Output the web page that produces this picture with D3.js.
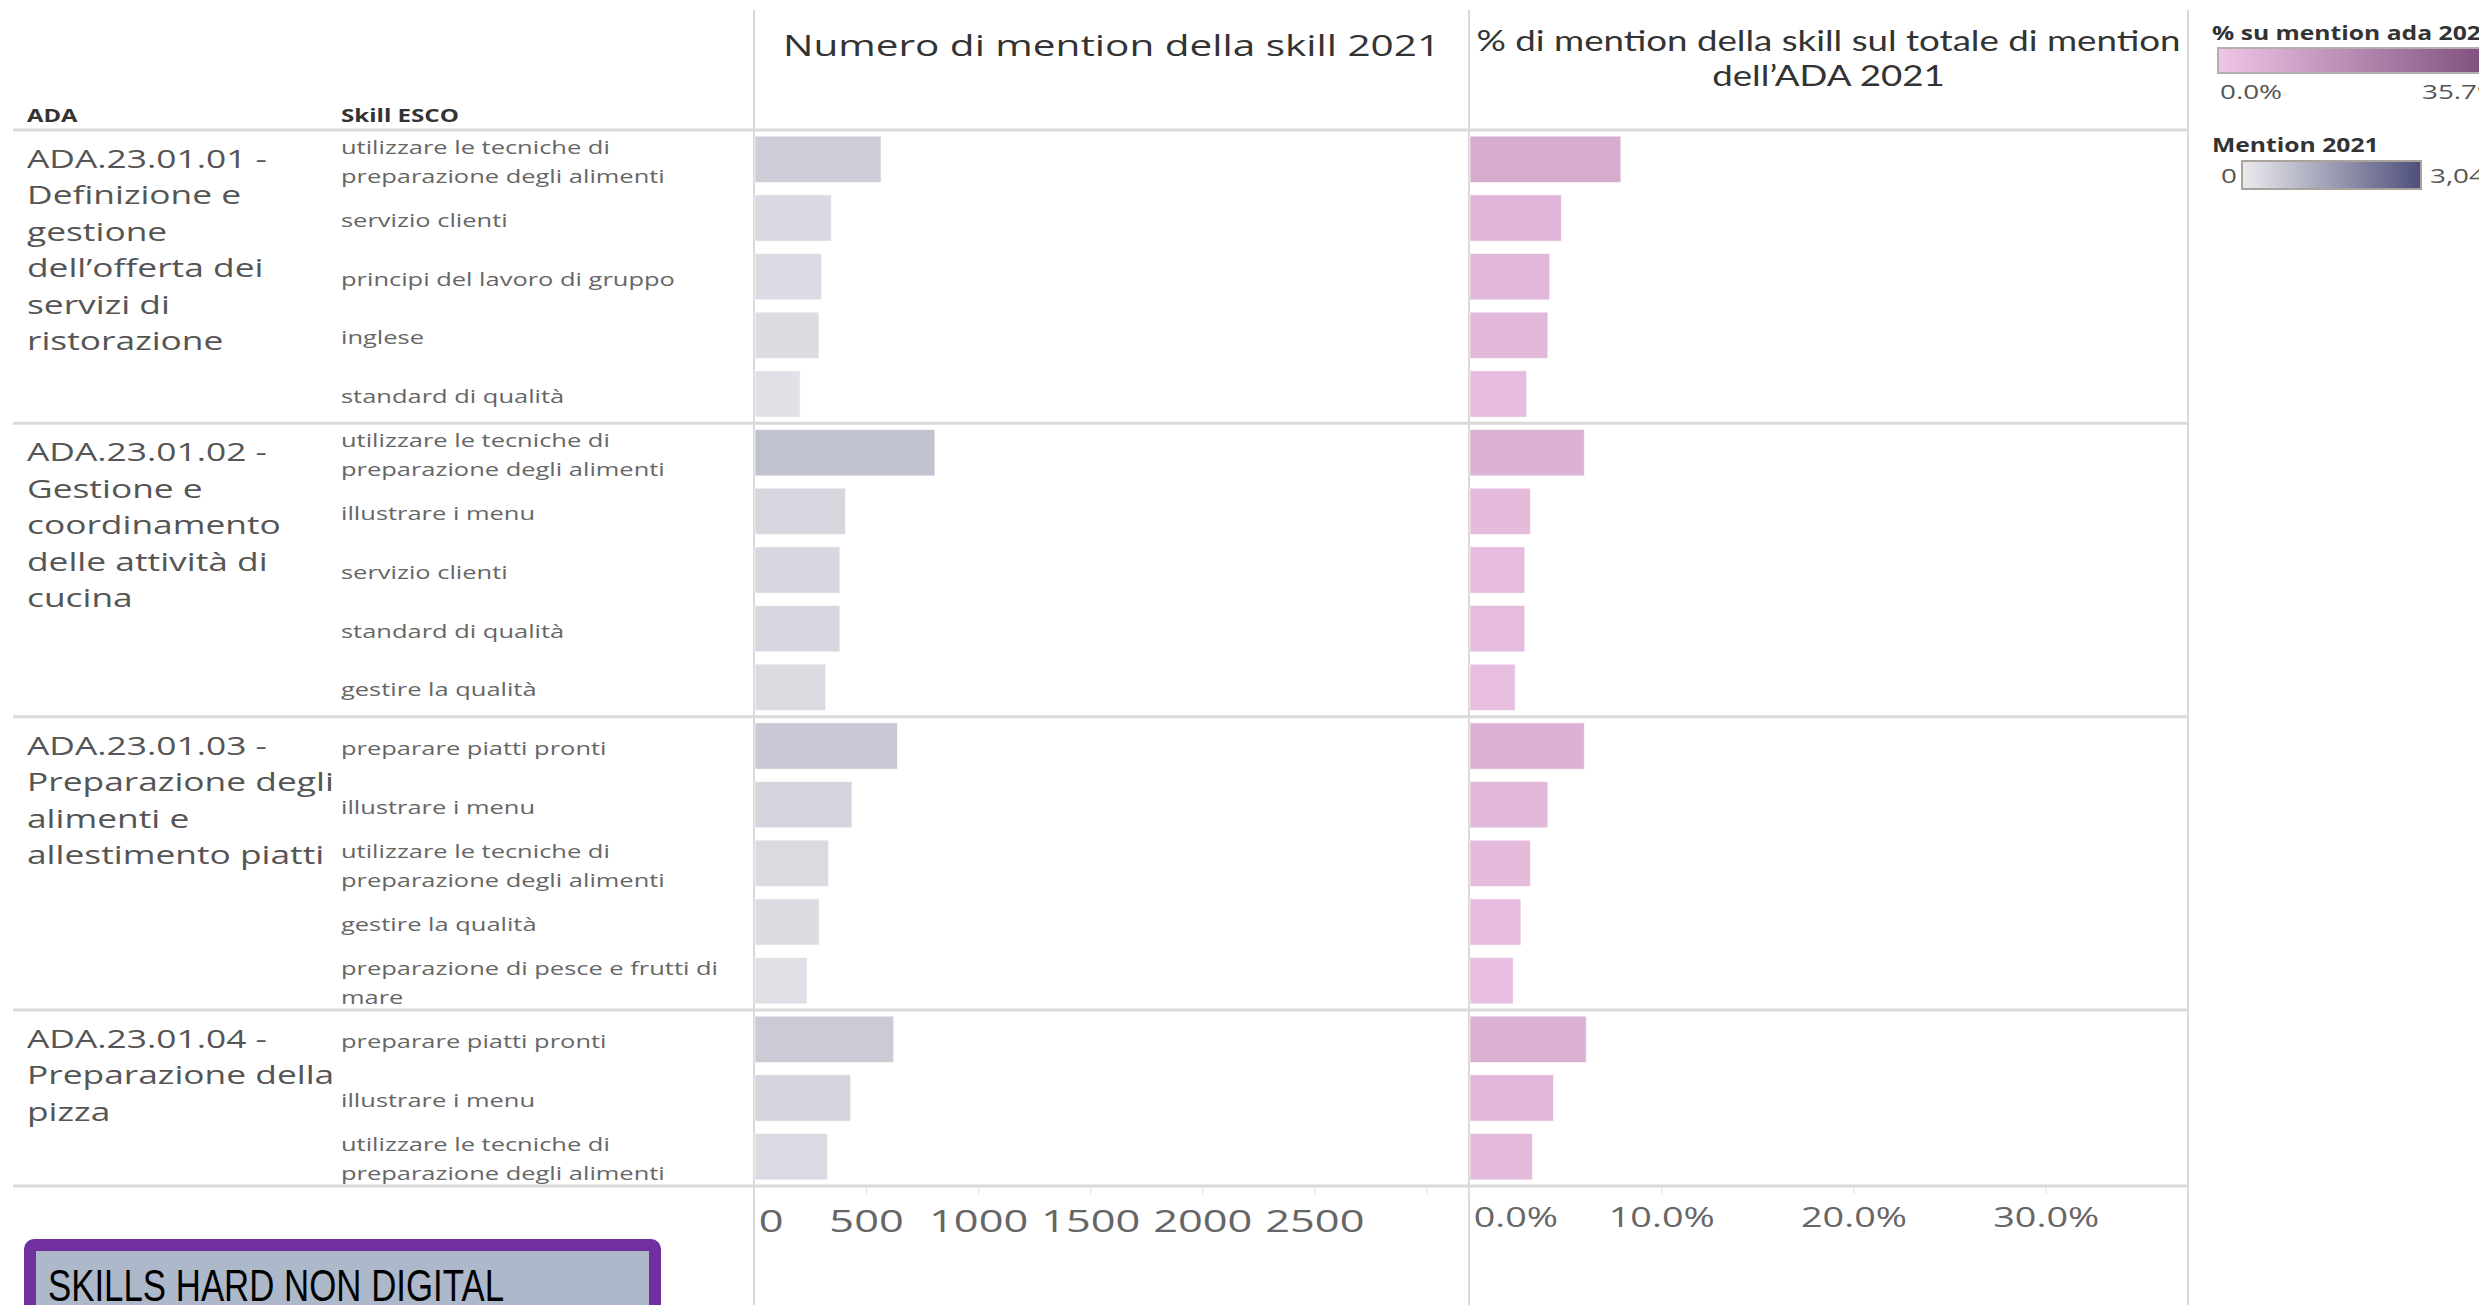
<!DOCTYPE html>
<html>
<head>
<meta charset="utf-8">
<script src="https://cdn.jsdelivr.net/npm/d3@7"></script>
<style>
  html, body { margin: 0; padding: 0; background: #fff; }
  svg { display: block; }
</style>
</head>
<body>
<div id="viz"></div>
<script>
// ADA groups (label lines) and the rows that belong to them
var adaLabels = [
  ["ADA.23.01.01 -", "Definizione e", "gestione", "dell’offerta dei", "servizi di", "ristorazione"],
  ["ADA.23.01.02 -", "Gestione e", "coordinamento", "delle attività di", "cucina"],
  ["ADA.23.01.03 -", "Preparazione degli", "alimenti e", "allestimento piatti"],
  ["ADA.23.01.04 -", "Preparazione della", "pizza"]
];
var rowGroup = [0,0,0,0,0, 1,1,1,1,1, 2,2,2,2,2, 3,3,3];
var skills = [
  "utilizzare le tecniche di|preparazione degli alimenti", "servizio clienti", "principi del lavoro di gruppo", "inglese", "standard di qualità",
  "utilizzare le tecniche di|preparazione degli alimenti", "illustrare i menu", "servizio clienti", "standard di qualità", "gestire la qualità",
  "preparare piatti pronti", "illustrare i menu", "utilizzare le tecniche di|preparazione degli alimenti", "gestire la qualità", "preparazione di pesce e frutti di|mare",
  "preparare piatti pronti", "illustrare i menu", "utilizzare le tecniche di|preparazione degli alimenti"
];
// Numero di mention della skill 2021
var mentions = [567, 345, 301, 290, 206, 807, 408, 383, 383, 320, 640, 437, 333, 291, 237, 623, 431, 328];
// % di mention della skill sul totale di mention dell'ADA 2021
var pctAda = [7.9, 4.8, 4.2, 4.1, 3.0, 6.0, 3.2, 2.9, 2.9, 2.4, 6.0, 4.1, 3.2, 2.7, 2.3, 6.1, 4.4, 3.3];

var mentionTicks = [0, 500, 1000, 1500, 2000, 2500, 3000];
var pctTicks = [0, 10, 20, 30];
var mentionLegend = [0, 3045];
var pctLegend = [0, 35.7];

var w = 2479, h = 1305;
var font = "'Open Sans', 'Noto Sans', sans-serif";
var lineCol = '#d9d9d9';

var svg = d3.select('#viz').append('svg')
  .attr('width', w).attr('height', h)
  .style('font-family', font);

// the tableau part of the picture is stretched sideways
function stretch(sel, ax, sx) {
  sel.attr('transform', 'translate(' + ax + ',0) scale(' + sx + ',1) translate(' + (-ax) + ',0)');
}

var rows = skills.map(function(s, i) {
  return { id: i, skill: s.split('|'), group: rowGroup[i], mention: mentions[i], pct: pctAda[i] };
});

var y = d3.scaleBand()
  .domain(rows.map(d => d.id))
  .range([130, 1186])
  .paddingInner(0.21)
  .paddingOuter(0.105);
var step = y.step();

var xM = d3.scaleLinear().domain([0, 3190]).range([754, 1469]);
var xP = d3.scaleLinear().domain([0, 37.4]).range([1469, 2188]);

var colM = d3.scaleLinear().domain(mentionLegend).range(['#ebebee', '#4e4f7a']);
var colP = d3.scaleLinear().domain(pctLegend).range(['#efc6e6', '#7a4a7a']);

// group borders
var groupStart = [];
rows.forEach(function(d, i) {
  if (i === 0 || rowGroup[i - 1] !== d.group) groupStart.push(i);
});
var hLines = [130].concat(groupStart.slice(1).map(i => 130 + i * step)).concat([1186]);

svg.selectAll('line.hl')
  .data(hLines)
  .enter().append('line')
  .attr('class', 'hl')
  .attr('x1', 13).attr('x2', 2188)
  .attr('y1', d => d).attr('y2', d => d)
  .attr('stroke', lineCol).attr('stroke-width', 3);

svg.selectAll('line.vl')
  .data([754, 1469, 2188])
  .enter().append('line')
  .attr('class', 'vl')
  .attr('x1', d => d).attr('x2', d => d)
  .attr('y1', 10).attr('y2', h)
  .attr('stroke', lineCol).attr('stroke-width', 2);

// bars
svg.selectAll('rect.bm')
  .data(rows)
  .enter().append('rect')
  .attr('class', 'bm')
  .attr('x', xM(0) + 1)
  .attr('y', d => y(d.id))
  .attr('width', d => xM(d.mention) - xM(0) - 1)
  .attr('height', y.bandwidth())
  .attr('fill', d => colM(d.mention))
  .attr('stroke', 'rgba(255,255,255,0.6)')
  .attr('stroke-width', 1);

svg.selectAll('rect.bp')
  .data(rows)
  .enter().append('rect')
  .attr('class', 'bp')
  .attr('x', xP(0) + 1)
  .attr('y', d => y(d.id))
  .attr('width', d => xP(d.pct) - xP(0) - 1)
  .attr('height', y.bandwidth())
  .attr('fill', d => colP(d.pct))
  .attr('stroke', 'rgba(255,255,255,0.6)')
  .attr('stroke-width', 1);

// header texts
stretch(svg.append('text').attr('x', 27).attr('y', 122)
  .attr('font-size', 17).attr('font-weight', 'bold').attr('fill', '#333').text('ADA'), 27, 1.4);
stretch(svg.append('text').attr('x', 341).attr('y', 122)
  .attr('font-size', 17).attr('font-weight', 'bold').attr('fill', '#333').text('Skill ESCO'), 341, 1.42);

var cM = (754 + 1469) / 2, cP = (1469 + 2188) / 2;
stretch(svg.append('text')
  .attr('x', cM).attr('y', 56)
  .attr('text-anchor', 'middle')
  .attr('font-size', 30).attr('fill', '#333')
  .text('Numero di mention della skill 2021'), cM, 1.35);

var t2 = svg.append('text')
  .attr('text-anchor', 'middle')
  .attr('font-family', "Lato, sans-serif")
  .attr('font-size', 28).attr('fill', '#333');
t2.append('tspan').attr('x', cP).attr('y', 51).text('% di mention della skill sul totale di mention');
t2.append('tspan').attr('x', cP).attr('y', 86).text('dell’ADA 2021');
stretch(t2, cP, 1.31);

// ADA labels
svg.selectAll('text.ada')
  .data(groupStart)
  .enter().append('text')
  .attr('class', 'ada')
  .attr('font-size', 26).attr('fill', '#555')
  .each(function(start, gi) {
    var top = 130 + start * step;
    d3.select(this).selectAll('tspan')
      .data(adaLabels[gi])
      .enter().append('tspan')
      .attr('x', 27)
      .attr('y', (d, i) => top + 38 + i * 36.5)
      .text(d => d);
    stretch(d3.select(this), 27, 1.36);
  });

// skill labels
svg.selectAll('text.skill')
  .data(rows)
  .enter().append('text')
  .attr('class', 'skill')
  .attr('font-size', 19).attr('fill', '#666')
  .each(function(d) {
    var c = y(d.id) + y.bandwidth() / 2;
    var n = d.skill.length;
    d3.select(this).selectAll('tspan')
      .data(d.skill)
      .enter().append('tspan')
      .attr('x', 341)
      .attr('y', (t, i) => c + 9 + (i - (n - 1) / 2) * 28.5)
      .text(t => t);
    stretch(d3.select(this), 341, 1.34);
  });

// axes
var axM = svg.append('g')
  .attr('transform', 'translate(0,1186)')
  .call(d3.axisBottom(xM).tickValues(mentionTicks).tickSize(8).tickPadding(16)
    .tickFormat(d => d < 3000 ? d : ''));
var axP = svg.append('g')
  .attr('transform', 'translate(0,1186)')
  .call(d3.axisBottom(xP).tickValues(pctTicks).tickSize(8).tickPadding(14)
    .tickFormat(d => d3.format('.1f')(d) + '%'));

[axM, axP].forEach(function(ax) {
  ax.select('.domain').remove();
  ax.selectAll('.tick line').attr('stroke', '#e0e0e0');
  ax.selectAll('.tick text').attr('fill', '#666').attr('font-family', font)
    .attr('transform', 'scale(1.4,1)');
});
axM.selectAll('.tick text').attr('font-size', 31);
axP.selectAll('.tick text').attr('font-size', 27);
axM.selectAll('.tick').filter(d => d === 0).select('text').attr('text-anchor', 'start').attr('x', 3);
axP.selectAll('.tick').filter(d => d === 0).select('text').attr('text-anchor', 'start').attr('x', 3);

// legends
var defs = svg.append('defs');
function grad(id, c) {
  var g = defs.append('linearGradient').attr('id', id);
  g.append('stop').attr('offset', '0%').attr('stop-color', c.range()[0]);
  g.append('stop').attr('offset', '100%').attr('stop-color', c.range()[1]);
}
grad('gP', colP);
grad('gM', colM);

stretch(svg.append('text').attr('x', 2212).attr('y', 40)
  .attr('font-size', 19).attr('font-weight', 'bold').attr('fill', '#333')
  .text('% su mention ada 2021'), 2212, 1.3);
svg.append('rect').attr('x', 2218).attr('y', 48).attr('width', 280).attr('height', 25)
  .attr('fill', 'url(#gP)').attr('stroke', '#b4aeae').attr('stroke-width', 2);
stretch(svg.append('text').attr('x', 2220).attr('y', 99)
  .attr('font-size', 20).attr('fill', '#555').text(d3.format('.1f')(pctLegend[0]) + '%'), 2220, 1.39);
stretch(svg.append('text').attr('x', 2422).attr('y', 99)
  .attr('font-size', 20).attr('fill', '#555').text(d3.format('.1f')(pctLegend[1]) + '%'), 2422, 1.39);

stretch(svg.append('text').attr('x', 2212).attr('y', 152)
  .attr('font-size', 19).attr('font-weight', 'bold').attr('fill', '#333')
  .text('Mention 2021'), 2212, 1.3);
svg.append('rect').attr('x', 2242).attr('y', 161).attr('width', 179).attr('height', 28)
  .attr('fill', 'url(#gM)').attr('stroke', '#a9a39b').attr('stroke-width', 2);
stretch(svg.append('text').attr('x', 2221).attr('y', 183)
  .attr('font-size', 20).attr('fill', '#555').text(mentionLegend[0]), 2221, 1.39);
stretch(svg.append('text').attr('x', 2430).attr('y', 183)
  .attr('font-size', 20).attr('fill', '#555').text(d3.format(',')(mentionLegend[1])), 2430, 1.39);

// tag box bottom left
svg.append('rect').attr('x', 30).attr('y', 1245).attr('width', 625).attr('height', 100)
  .attr('rx', 4)
  .attr('fill', '#adb9ca').attr('stroke', '#7030a0').attr('stroke-width', 12);
svg.append('text').attr('x', 48).attr('y', 1301)
  .attr('font-family', "'Liberation Sans Narrow', 'Liberation Sans', sans-serif")
  .attr('font-size', 44).attr('fill', '#000')
  .attr('textLength', 456).attr('lengthAdjust', 'spacingAndGlyphs')
  .text('SKILLS HARD NON DIGITAL');
</script>
</body>
</html>
